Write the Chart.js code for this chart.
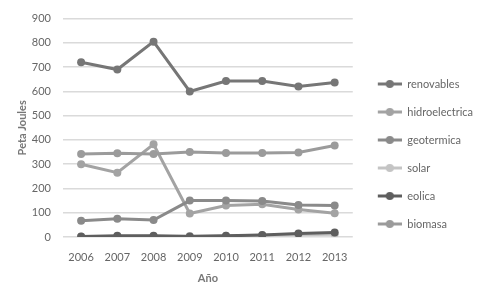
<!DOCTYPE html>
<html>
<head>
<meta charset="utf-8">
<script src="https://cdn.jsdelivr.net/npm/chart.js@4"></script>
<style>
  html, body { margin: 0; padding: 0; background: #fff; }
  #wrap { width: 490px; height: 289px; }
</style>
</head>
<body>
<div id="wrap"><canvas id="energia"></canvas></div>
<script>
// Energías renovables por año, en Peta Joules
const anios = ['2006', '2007', '2008', '2009', '2010', '2011', '2012', '2013'];
const renovables = [720, 690, 805, 600, 643, 643, 620, 637];
const hidroelectrica = [300, 265, 382, 97, 130, 135, 113, 98];
const geotermica = [67, 75, 70, 150, 150, 148, 132, 130];
const solar = [1, 2, 3, 4, 5, 7, 9, 11];
const eolica = [2, 5, 5, 2, 5, 8, 14, 19];
const biomasa = [342, 345, 342, 350, 346, 346, 348, 377];

const series = [
  { label: 'renovables', data: renovables, color: '#767676' },
  { label: 'hidroelectrica', data: hidroelectrica, color: '#a3a3a3' },
  { label: 'geotermica', data: geotermica, color: '#8a8a8a' },
  { label: 'solar', data: solar, color: '#c4c4c4' },
  { label: 'eolica', data: eolica, color: '#5e5e5e' },
  { label: 'biomasa', data: biomasa, color: '#9b9b9b' }
];

// marcador de leyenda: línea con círculo (con margen a la izquierda)
function legendMarker(color) {
  const c = document.createElement('canvas');
  c.width = 32; c.height = 10;
  const g = c.getContext('2d');
  g.strokeStyle = color; g.lineWidth = 3;
  g.beginPath(); g.moveTo(8, 5); g.lineTo(32, 5); g.stroke();
  g.fillStyle = color;
  g.beginPath(); g.arc(20, 5, 4, 0, Math.PI * 2); g.fill();
  return c;
}

// baja un poco la leyenda (en el original no está centrada del todo)
const bajarLeyenda = {
  id: 'bajarLeyenda',
  afterLayout(chart) {
    if (chart.legend) chart.legend.top += 11;
  }
};

function dibujar() {
  new Chart(document.getElementById('energia'), {
    type: 'line',
    data: {
      labels: anios,
      datasets: series.map((s, i) => ({
        label: s.label,
        data: s.data,
        order: -i, // las series posteriores quedan encima, como en Excel
        borderColor: s.color,
        backgroundColor: s.color,
        borderWidth: 3,
        pointRadius: 4,
        pointBorderWidth: 0,
        tension: 0,
        pointStyle: 'circle'
      }))
    },
    plugins: [bajarLeyenda],
    options: {
      responsive: true,
      maintainAspectRatio: false,
      animation: false,
      layout: { padding: { top: 8, right: 7, left: 12, bottom: 0 } },
      plugins: {
        tooltip: { enabled: false },
        legend: {
          position: 'right',
          maxWidth: 160, // si no, la leyenda queda limitada a ~118px y se corta el texto
          labels: {
            usePointStyle: true,
            pointStyleWidth: 32,
            padding: 17,
            color: '#666',
            font: { family: 'Lato', size: 11 },
            generateLabels: chart => chart.data.datasets.map((ds, i) => ({
              text: ds.label,
              pointStyle: legendMarker(ds.borderColor),
              fillStyle: ds.borderColor,
              strokeStyle: ds.borderColor,
              lineWidth: 0,
              fontColor: '#666',
              datasetIndex: i,
              hidden: false
            }))
          }
        }
      },
      scales: {
        x: {
          offset: true,
          grid: { display: false },
          border: { display: false },
          ticks: { color: '#666', font: { family: 'Lato', size: 11 }, padding: 6 },
          title: { display: true, text: 'Año', color: '#777', font: { family: 'Lato', size: 11, weight: 'bold' }, padding: { top: 12 } },
          afterFit: s => { s.height = 52; }
        },
        y: {
          min: 0,
          max: 900,
          ticks: { stepSize: 100, color: '#666', font: { family: 'Lato', size: 11 }, padding: 12 },
          grid: { color: '#dadada', lineWidth: 1.5, drawTicks: false },
          border: { display: false },
          title: { display: true, text: 'Peta Joules', color: '#777', font: { family: 'Lato', size: 11, weight: 'bold' } },
          afterFit: s => { s.width = 51; }
        }
      }
    }
  });
}

// esperar a que Lato esté cargada para medir bien los textos
Promise.all([
  document.fonts.load('11px Lato'),
  document.fonts.load('bold 11px Lato')
]).then(dibujar, dibujar);
</script>
</body>
</html>
